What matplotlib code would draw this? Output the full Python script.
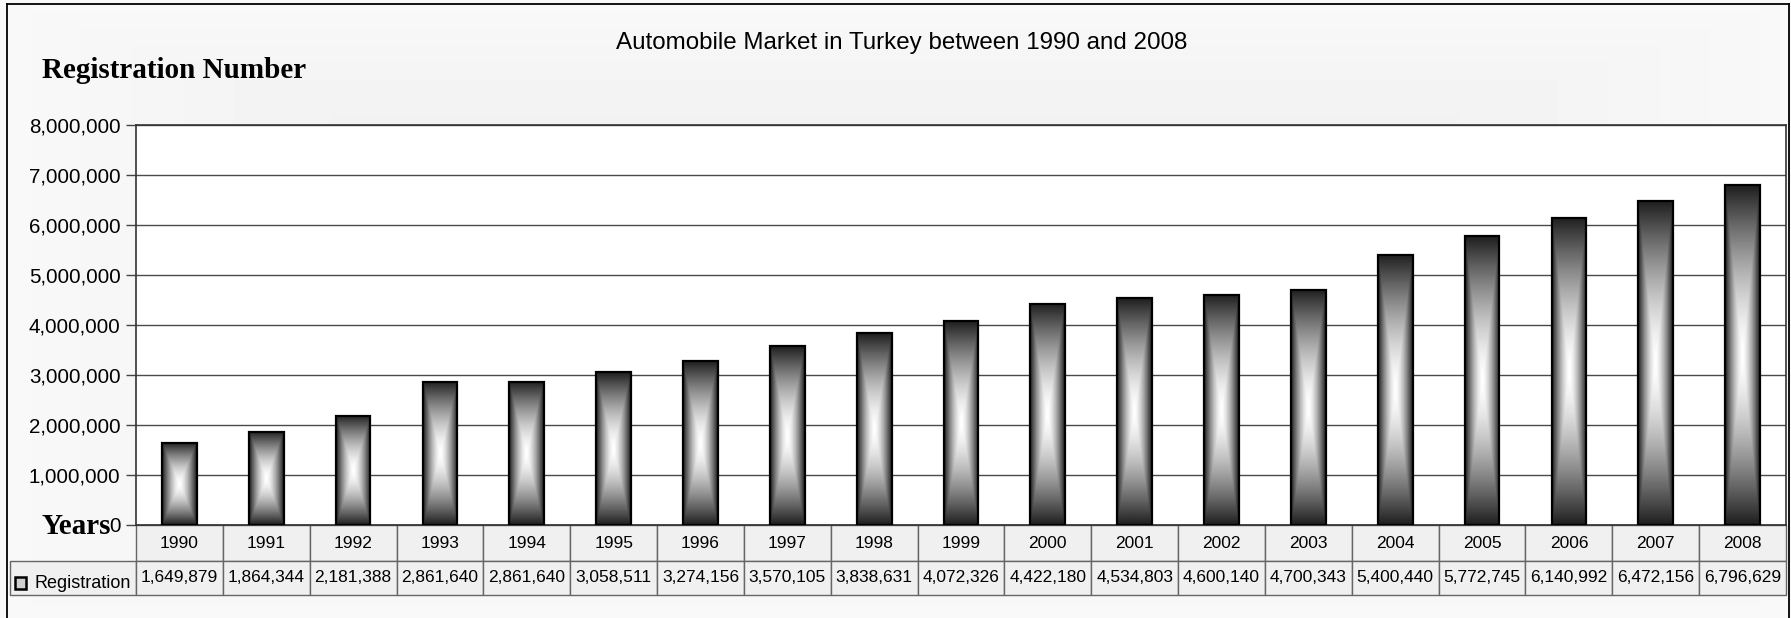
import numpy as np
import matplotlib
matplotlib.use('Agg')
from matplotlib import pyplot as plt
from matplotlib.lines import Line2D
from matplotlib.patches import Rectangle
from matplotlib.table import Table
from matplotlib.ticker import FuncFormatter, MultipleLocator

plt.rcParams['font.family'] = ['Liberation Sans', 'DejaVu Sans']

# registrations per year
years = [1990, 1991, 1992, 1993, 1994, 1995, 1996, 1997, 1998, 1999,
         2000, 2001, 2002, 2003, 2004, 2005, 2006, 2007, 2008]
registrations = [1649879, 1864344, 2181388, 2861640, 2861640, 3058511,
                 3274156, 3570105, 3838631, 4072326, 4422180, 4534803,
                 4600140, 4700343, 5400440, 5772745, 6140992, 6472156,
                 6796629]
series_name = 'Registration'
title = 'Automobile Market in Turkey between 1990 and 2008'

W, H = 1791, 618
fig = plt.figure(figsize=(W / 100, H / 100), dpi=100)


def fx(px):
    return px / W


def fy(py):
    return 1 - py / H


# light grey "from centre" fill behind the whole chart
bg_ax = fig.add_axes([0, 0, 1, 1], zorder=-10)
u = np.linspace(-1, 1, 400)
v = np.linspace(-1, 1, 200)
U, V = np.meshgrid(u, v)
t = np.maximum(np.abs(U), np.abs(V))
bg_ax.imshow(0.905 + 0.07 * t, cmap='gray', vmin=0, vmax=1,
             extent=(0, 1, 0, 1), aspect='auto')
bg_ax.axis('off')

# chart border (bottom edge runs off the image)
for xs, ys in [([7, 7], [4, H]), ([7, 1789], [4, 4]), ([1789, 1789], [4, H])]:
    fig.add_artist(Line2D([fx(x) for x in xs], [fy(y) for y in ys],
                          transform=fig.transFigure, color='black', lw=1.3))

ax = fig.add_axes([fx(136), fy(525), fx(1786) - fx(136), fy(125) - fy(525)])
ax.set_facecolor('white')
x = np.arange(len(years))

bars = ax.bar(x, registrations, width=0.4, facecolor='none',
              edgecolor='black', linewidth=1.6, zorder=4)

# rectangular gradient: white in the middle, dark at the edges
gu = np.linspace(-1, 1, 60)
gv = np.linspace(-1, 1, 300)
GU, GV = np.meshgrid(gu, gv)
gt = np.maximum(np.abs(GU), np.abs(GV))
shade = 1 - 0.88 * gt ** 1.5
for b in bars:
    x0, w, h = b.get_x(), b.get_width(), b.get_height()
    ax.imshow(shade, cmap='gray', vmin=0, vmax=1, aspect='auto',
              extent=(x0, x0 + w, 0, h), zorder=3, interpolation='bilinear')

ax.set_xlim(-0.5, len(years) - 0.5)
ax.set_ylim(0, 8000000)
ax.yaxis.set_major_locator(MultipleLocator(1000000))
ax.yaxis.set_major_formatter(FuncFormatter(lambda val, pos: f'{int(val):,}'))
ax.tick_params(axis='y', labelsize=14.8, length=7, width=1,
               color='#444444', pad=4.2)
ax.set_xticks([])
ax.yaxis.grid(True, color='#4a4a4a', lw=1.0)
ax.set_axisbelow(True)
for sp in ax.spines.values():
    sp.set_color('#333333')
    sp.set_linewidth(1.2)

# data table under the plot; the label column hangs off to the left
label_w = (136 - 10) / 1650
row1 = 36 / 400
row2 = 34 / 400
tbl = Table(ax, bbox=[0, -(row1 + row2), 1, row1 + row2])
tbl.auto_set_font_size(False)
for i, yr in enumerate(years):
    tbl.add_cell(0, i, 1 / len(years), row1, text=str(yr), loc='center',
                 facecolor='#f0f0f0', edgecolor='#666666')
    tbl.add_cell(1, i, 1 / len(years), row2, text=f'{registrations[i]:,}',
                 loc='center', facecolor='#f0f0f0', edgecolor='#666666')
tbl.add_cell(1, -1, label_w, row2, text='', facecolor='#f0f0f0',
             edgecolor='#666666')
tbl.set_fontsize(12.5)
ax.add_table(tbl)

# legend key inside the table's label cell
fig.add_artist(Rectangle((fx(15), fy(589)), fx(11), fy(577) - fy(589),
                         transform=fig.transFigure, facecolor='#cfcfcf',
                         edgecolor='black', lw=1.8))
fig.text(fx(34), fy(588), series_name, fontsize=13, va='baseline',
         ha='left')

fig.text(fx(902), fy(49), title, fontsize=17.4, ha='center', va='baseline')
fig.text(fx(42), fy(78), 'Registration Number', family='Liberation Serif',
         weight='bold', fontsize=21, va='baseline')
fig.text(fx(42), fy(534), 'Years', family='Liberation Serif',
         weight='bold', fontsize=21, va='baseline')

fig.savefig('out.png', dpi=100)
